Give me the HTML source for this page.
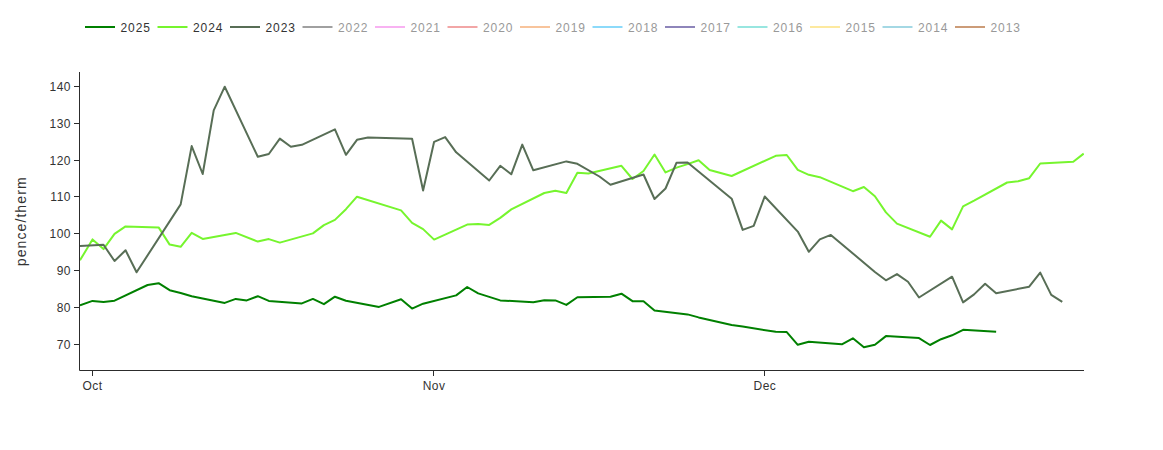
<!DOCTYPE html>
<html><head><meta charset="utf-8"><style>
html,body{margin:0;padding:0;background:#fff;width:1163px;height:450px;overflow:hidden}
svg{display:block}
text{font-family:"Liberation Sans",sans-serif;font-size:12px;fill:#333}
.lt{letter-spacing:0.95px}
.t{letter-spacing:0.5px}
.yt{font-size:14px;letter-spacing:1.1px}
</style></head><body>
<svg width="1163" height="450" viewBox="0 0 1163 450">
<defs><clipPath id="c"><rect x="80" y="72" width="1004" height="298"/></clipPath></defs>
<path d="M85.0,27h30" stroke="#008000" stroke-width="2"/><text x="120.5" y="32" class="lt" style="fill:#333">2025</text><path d="M157.5,27h30" stroke="#76f52e" stroke-width="2"/><text x="193.0" y="32" class="lt" style="fill:#333">2024</text><path d="M230.0,27h30" stroke="#586e56" stroke-width="2"/><text x="265.5" y="32" class="lt" style="fill:#333">2023</text><path d="M302.5,27h30" stroke="#a0a0a0" stroke-width="2"/><text x="338.0" y="32" class="lt" style="fill:#999999">2022</text><path d="M375.0,27h30" stroke="#f8b2f2" stroke-width="2"/><text x="410.5" y="32" class="lt" style="fill:#999999">2021</text><path d="M447.5,27h30" stroke="#f2a6a6" stroke-width="2"/><text x="483.0" y="32" class="lt" style="fill:#999999">2020</text><path d="M520.0,27h30" stroke="#f8c49c" stroke-width="2"/><text x="555.5" y="32" class="lt" style="fill:#999999">2019</text><path d="M592.5,27h30" stroke="#8cdafa" stroke-width="2"/><text x="628.0" y="32" class="lt" style="fill:#999999">2018</text><path d="M665.0,27h30" stroke="#8e85ba" stroke-width="2"/><text x="700.5" y="32" class="lt" style="fill:#999999">2017</text><path d="M737.5,27h30" stroke="#98e6e0" stroke-width="2"/><text x="773.0" y="32" class="lt" style="fill:#999999">2016</text><path d="M810.0,27h30" stroke="#fde99f" stroke-width="2"/><text x="845.5" y="32" class="lt" style="fill:#999999">2015</text><path d="M882.5,27h30" stroke="#a4d8e4" stroke-width="2"/><text x="918.0" y="32" class="lt" style="fill:#999999">2014</text><path d="M955.0,27h30" stroke="#cc9c78" stroke-width="2"/><text x="990.5" y="32" class="lt" style="fill:#999999">2013</text>
<g clip-path="url(#c)" fill="none" stroke-width="2" stroke-linejoin="round">
<path d="M80.00,305.40 L92.50,300.90 L103.52,301.90 L114.54,300.70 L147.60,285.00 L158.62,283.20 L169.64,290.20 L180.66,293.00 L191.68,296.20 L224.74,302.90 L235.76,298.90 L246.78,300.40 L257.80,296.20 L268.82,300.90 L301.88,303.40 L312.90,298.90 L323.92,304.20 L334.94,296.70 L345.96,300.70 L379.02,306.90 L401.06,299.20 L412.08,308.60 L423.10,303.70 L456.16,295.40 L467.18,287.00 L478.20,293.40 L500.24,300.40 L533.30,302.20 L544.32,300.20 L555.34,300.40 L566.36,304.90 L577.38,297.20 L610.44,296.70 L621.46,293.70 L632.48,301.20 L643.50,301.20 L654.52,310.50 L687.58,314.40 L698.60,317.40 L709.62,319.90 L731.66,324.90 L742.68,326.60 L775.74,331.80 L786.76,332.10 L797.78,344.80 L808.80,341.80 L841.86,344.30 L852.88,338.30 L863.90,347.30 L874.92,344.80 L885.94,336.10 L919.00,338.10 L930.02,345.00 L941.04,339.20 L952.06,335.30 L963.08,329.80 L996.14,331.80" stroke="#008000"/>
<path d="M80.00,260.30 L92.50,239.40 L103.52,249.10 L114.54,233.90 L125.56,226.40 L158.62,227.40 L169.64,244.60 L180.66,246.80 L191.68,232.90 L202.70,238.90 L235.76,232.90 L257.80,241.60 L268.82,239.10 L279.84,242.60 L312.90,233.40 L323.92,225.10 L334.94,219.90 L345.96,209.20 L356.98,196.70 L401.06,210.40 L412.08,222.90 L423.10,229.10 L434.12,239.60 L467.18,224.60 L478.20,224.10 L489.22,224.90 L500.24,217.90 L511.26,209.40 L544.32,193.00 L555.34,190.70 L566.36,193.10 L577.38,172.80 L588.40,173.50 L621.46,165.80 L632.48,179.00 L643.50,171.00 L654.52,154.50 L665.54,172.40 L676.56,167.60 L687.58,164.10 L698.60,160.30 L709.62,170.00 L731.66,176.00 L775.74,155.80 L786.76,155.00 L797.78,169.80 L808.80,174.80 L819.82,177.20 L852.88,191.20 L863.90,187.00 L874.92,196.20 L885.94,212.40 L896.96,223.60 L930.02,236.80 L941.04,220.60 L952.06,229.40 L963.08,206.40 L974.10,200.70 L1007.16,182.50 L1018.18,181.30 L1029.20,178.20 L1040.22,163.50 L1073.28,161.80 L1083.70,153.60" stroke="#76f52e"/>
<path d="M80.00,246.10 L103.52,244.80 L114.54,261.00 L125.56,250.30 L136.58,272.30 L180.66,204.40 L191.68,146.10 L202.70,174.00 L213.72,110.40 L224.74,86.70 L257.80,156.80 L268.82,154.00 L279.84,138.60 L290.86,146.80 L301.88,144.80 L334.94,129.40 L345.96,154.80 L356.98,139.80 L368.00,137.60 L412.08,138.80 L423.10,190.50 L434.12,141.80 L445.14,137.10 L456.16,152.30 L489.22,180.50 L500.24,165.80 L511.26,174.30 L522.28,144.60 L533.30,170.30 L566.36,161.40 L577.38,163.80 L599.42,176.50 L610.44,184.80 L643.50,174.50 L654.52,199.00 L665.54,188.50 L676.56,162.70 L687.58,162.50 L731.66,198.70 L742.68,229.90 L753.70,225.90 L764.72,196.50 L797.78,231.60 L808.80,251.80 L819.82,239.40 L830.84,234.90 L874.92,272.00 L885.94,280.30 L896.96,274.10 L907.98,281.80 L919.00,297.50 L952.06,276.70 L963.08,302.40 L974.10,294.40 L985.12,283.70 L996.14,293.20 L1029.20,286.70 L1040.22,272.60 L1051.24,294.90 L1062.26,301.90" stroke="#586e56"/>
</g>
<path d="M79.5,72V370.5H1084" fill="none" stroke="#2c2c2c" stroke-width="1"/>
<path d="M74,344.5h5" stroke="#2c2c2c" stroke-width="1"/><text x="71" y="349.4" text-anchor="end" class="t">70</text><path d="M74,307.5h5" stroke="#2c2c2c" stroke-width="1"/><text x="71" y="312.4" text-anchor="end" class="t">80</text><path d="M74,270.5h5" stroke="#2c2c2c" stroke-width="1"/><text x="71" y="275.4" text-anchor="end" class="t">90</text><path d="M74,233.5h5" stroke="#2c2c2c" stroke-width="1"/><text x="71" y="238.4" text-anchor="end" class="t">100</text><path d="M74,196.5h5" stroke="#2c2c2c" stroke-width="1"/><text x="71" y="201.4" text-anchor="end" class="t">110</text><path d="M74,160.5h5" stroke="#2c2c2c" stroke-width="1"/><text x="71" y="165.4" text-anchor="end" class="t">120</text><path d="M74,123.5h5" stroke="#2c2c2c" stroke-width="1"/><text x="71" y="128.4" text-anchor="end" class="t">130</text><path d="M74,86.5h5" stroke="#2c2c2c" stroke-width="1"/><text x="71" y="91.4" text-anchor="end" class="t">140</text>
<path d="M92.5,371v5" stroke="#2c2c2c" stroke-width="1"/><text x="92.6" y="390" text-anchor="middle" class="t">Oct</text><path d="M433.5,371v5" stroke="#2c2c2c" stroke-width="1"/><text x="434.1" y="390" text-anchor="middle" class="t">Nov</text><path d="M764.5,371v5" stroke="#2c2c2c" stroke-width="1"/><text x="764.9" y="390" text-anchor="middle" class="t">Dec</text>
<text transform="translate(26.0,221.3) rotate(-90)" text-anchor="middle" class="yt">pence/therm</text>
</svg>
</body></html>
